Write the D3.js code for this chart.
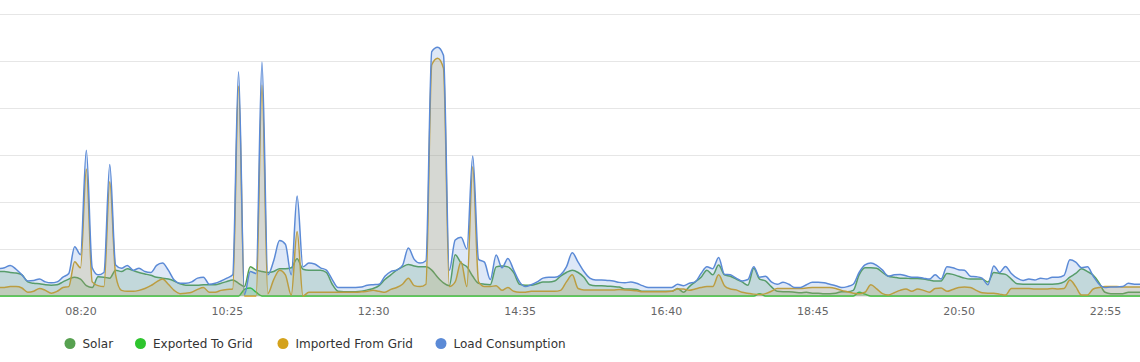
<!DOCTYPE html>
<html>
<head>
<meta charset="utf-8">
<script src="https://cdn.jsdelivr.net/npm/d3@7"></script>
<style>
  html, body { margin: 0; padding: 0; background: #ffffff; }
  svg { display: block; font-family: "DejaVu Sans", sans-serif; }
</style>
</head>
<body>
<svg id="chart" width="1140" height="362"></svg>
<script>
// ---- data ----
const startTime = "07:10";
const stepMinutes = 5;
const tickLabels = ["08:20", "10:25", "12:30", "14:35", "16:40", "18:45", "20:50", "22:55"];
const seriesNames = ["Solar", "Exported To Grid", "Imported From Grid", "Load Consumption"];

const solar = [.52,
 .52,.50,.49,.45,.30,.27,.26,.24,.23,.24,.30,.36,.40,.36,.22,.18,.41,.40,.38,.55,
 .52,.58,.54,.50,.47,.44,.40,.38,.36,.32,.26,.23,.23,.23,.24,.24,.24,.27,.31,.34,
 .27,.20,.62,.55,.52,.50,.52,.58,.58,.60,.79,.57,.55,.55,.55,.50,.25,.10,.09,.09,
 .09,.10,.13,.16,.22,.35,.45,.55,.62,.67,.64,.62,.62,.55,.40,.28,.22,.88,.70,.62,
 .42,.27,.25,.24,.62,.64,.62,.50,.25,.23,.23,.26,.30,.30,.32,.42,.50,.55,.50,.40,
 .24,.22,.22,.21,.20,.19,.15,.15,.14,.10,.10,.10,.10,.10,.10,.16,.08,.20,.30,.40,
 .55,.45,.66,.45,.42,.36,.30,.23,.59,.36,.32,.20,.10,.09,.09,.08,.07,.08,.06,.06,
 .05,.05,.06,.09,.09,.12,.45,.60,.60,.59,.50,.42,.40,.38,.38,.37,.37,.36,.34,.32,
 .32,.48,.46,.42,.38,.36,.36,.36,.30,.50,.48,.46,.36,.26,.25,.25,.25,.25,.25,.25,
 .26,.30,.40,.48,.58,.52,.44,.28,.08,.05,.05,.05,.08,.08,
 .08];

const exported = [0,
 0,0,0,0,0,0,0,0,0,0,0,0,0,0,0,0,0,0,0,0,
 0,0,0,0,0,0,0,0,0,0,0,0,0,0,0,0,0,0,0,0,
 0,.14,.17,.08,0,0,0,0,0,0,0,0,0,0,0,0,0,0,0,0,
 0,0,0,0,0,0,0,0,0,0,0,0,0,0,0,0,0,0,0,0,
 0,0,0,0,0,0,0,0,0,0,0,0,0,0,0,0,0,0,0,0,
 0,0,0,0,0,0,0,0,0,0,0,0,0,0,0,0,0,0,0,0,
 0,0,0,0,0,0,0,0,0,.05,0,0,0,0,0,0,0,0,0,0,
 0,0,0,0,0,0,.08,.04,0,0,0,0,0,0,0,0,0,0,0,0,
 0,0,0,0,0,0,0,0,0,0,0,0,0,0,0,0,0,0,0,0,
 0,0,0,0,0,0,0,0,0,0,0,0,0,0,
 0];

const imported = [.18,
 .18,.20,.20,.17,.08,.10,.16,.12,.06,.10,.18,.20,.73,.60,2.70,.30,.22,.20,2.43,.45,
 .12,.10,.10,.12,.16,.22,.30,.36,.25,.12,.05,.06,.08,.14,.18,.08,.08,.12,.14,.15,
 4.47,0,0,0,4.49,.05,.35,.55,.45,.02,1.37,0,.08,.08,.08,.08,.08,.08,.08,.08,
 .08,.09,.10,.12,.10,.08,.14,.18,.25,.38,.22,.20,.25,4.92,5.06,4.85,.20,.30,.73,.20,
 2.75,.30,.20,.20,.22,.12,.18,.10,.08,.08,.10,.10,.10,.10,.10,.12,.30,.45,.16,.13,
 .13,.13,.13,.13,.13,.14,.13,.12,.11,.09,.09,.09,.09,.09,.10,.15,.15,.12,.15,.18,
 .20,.20,.45,.22,.15,.13,.08,.06,.04,.03,.05,.10,.16,.16,.16,.16,.16,.17,.18,.18,
 .18,.18,.16,.12,.09,.06,.05,.08,.24,.15,.05,.02,.07,.12,.15,.10,.15,.12,.08,.16,
 .17,.10,.14,.18,.19,.18,.12,.07,.06,.06,.04,.02,.16,.16,.16,.16,.15,.15,.15,.16,
 .15,.16,.34,.20,.02,.02,.15,.18,.20,.20,.20,.19,.19,.19,
 .19];

const load = [.58,
 .60,.65,.57,.45,.32,.33,.36,.30,.28,.30,.40,.48,1.05,.88,3.10,.60,.45,.50,2.80,.66,
 .59,.65,.55,.59,.52,.50,.65,.70,.55,.34,.27,.27,.30,.38,.40,.25,.27,.32,.38,.45,
 4.77,.03,.52,.48,4.98,.45,.75,1.18,1.10,.45,2.13,.62,.70,.68,.60,.55,.35,.18,.18,.18,
 .18,.19,.23,.24,.25,.42,.52,.55,.65,1.02,.78,.70,.75,5.20,5.29,5.12,.55,1.19,1.25,1.00,
 2.98,.78,.72,.35,.87,.60,.80,.55,.30,.20,.24,.30,.38,.40,.40,.45,.62,.92,.72,.52,
 .38,.34,.34,.33,.32,.29,.28,.30,.27,.22,.18,.18,.18,.18,.18,.25,.22,.27,.30,.48,
 .62,.58,.82,.46,.45,.38,.32,.35,.62,.40,.42,.30,.25,.29,.25,.18,.18,.24,.29,.29,
 .28,.25,.22,.18,.20,.25,.50,.66,.70,.65,.55,.42,.45,.46,.43,.40,.40,.38,.36,.45,
 .36,.62,.60,.56,.55,.42,.41,.38,.24,.64,.50,.63,.48,.38,.33,.36,.34,.38,.36,.40,
 .40,.44,.77,.72,.60,.62,.42,.25,.18,.19,.19,.20,.27,.25,
 .25];

// ---- categories (5-minute slots) ----
const categories = (function () {
  const [h0, m0] = startTime.split(":").map(Number);
  const out = [];
  for (let i = 0; i < load.length; i++) {
    const t = h0 * 60 + m0 + i * stepMinutes;
    out.push(String(Math.floor(t / 60)).padStart(2, "0") + ":" + String(t % 60).padStart(2, "0"));
  }
  return out;
})();

// ---- styles ----
const colors = ["#57a150", "#2ec52e", "#d4a21c", "#5b8ad6"];
const W = 1140, plotTop = 14, plotBottom = 296;

const svg = d3.select("#chart");

// x: point scale; label positions 08:20 → 80.5px, 22:55 → 1105px
const iA = categories.indexOf(tickLabels[0]);
const iB = categories.indexOf(tickLabels[tickLabels.length - 1]);
const step = (1105 - 80.5) / (iB - iA);
const x = d3.scalePoint()
  .domain(categories)
  .range([80.5 - iA * step, 80.5 + (categories.length - 1 - iA) * step]);

const y = d3.scaleLinear().domain([0, 6]).range([plotBottom, plotTop]);

// grid
svg.append("g")
  .selectAll("line")
  .data(y.ticks(6))
  .join("line")
  .attr("x1", 0).attr("x2", W)
  .attr("y1", d => Math.round(y(d)) + 0.5)
  .attr("y2", d => Math.round(y(d)) + 0.5)
  .attr("stroke", "#e6e6e6")
  .attr("stroke-width", 1);

// clip
svg.append("clipPath").attr("id", "clip")
  .append("rect").attr("x", 0).attr("y", 0).attr("width", W).attr("height", plotBottom + 1);

const curve = d3.curveMonotoneX;
const area = d3.area()
  .x((d, i) => x(categories[i]))
  .y0(y(0))
  .y1(d => y(d))
  .curve(curve);
const line = d3.line()
  .x((d, i) => x(categories[i]))
  .y(d => y(d))
  .curve(curve);

const seriesData = [solar, exported, imported, load];
const plot = svg.append("g").attr("clip-path", "url(#clip)");
seriesData.forEach((data, k) => {
  const g = plot.append("g");
  g.append("path")
    .attr("d", area(data))
    .attr("fill", colors[k])
    .attr("fill-opacity", 0.2);
  g.append("path")
    .attr("d", line(data))
    .attr("fill", "none")
    .attr("stroke", colors[k])
    .attr("stroke-width", 1.5)
    .attr("stroke-linejoin", "round");
});

// x axis
const xAxis = d3.axisBottom(x).tickValues(tickLabels).tickSize(0).tickPadding(11.5);
const ax = svg.append("g").attr("transform", `translate(0,${plotBottom})`).call(xAxis);
ax.select(".domain").remove();
ax.selectAll("text")
  .attr("fill", "#666666")
  .style("font-size", "11px")
  .style("font-family", "'DejaVu Sans', sans-serif");

// legend
const legendCircleX = [70, 140.5, 283, 441];
const legend = svg.append("g");
seriesNames.forEach((name, k) => {
  legend.append("circle")
    .attr("cx", legendCircleX[k]).attr("cy", 343.5).attr("r", 5.5)
    .attr("fill", colors[k]);
  legend.append("text")
    .attr("x", legendCircleX[k] + 12.5).attr("y", 347.8)
    .attr("fill", "#333333")
    .style("font-size", "12px")
    .text(name);
});
</script>
</body>
</html>
